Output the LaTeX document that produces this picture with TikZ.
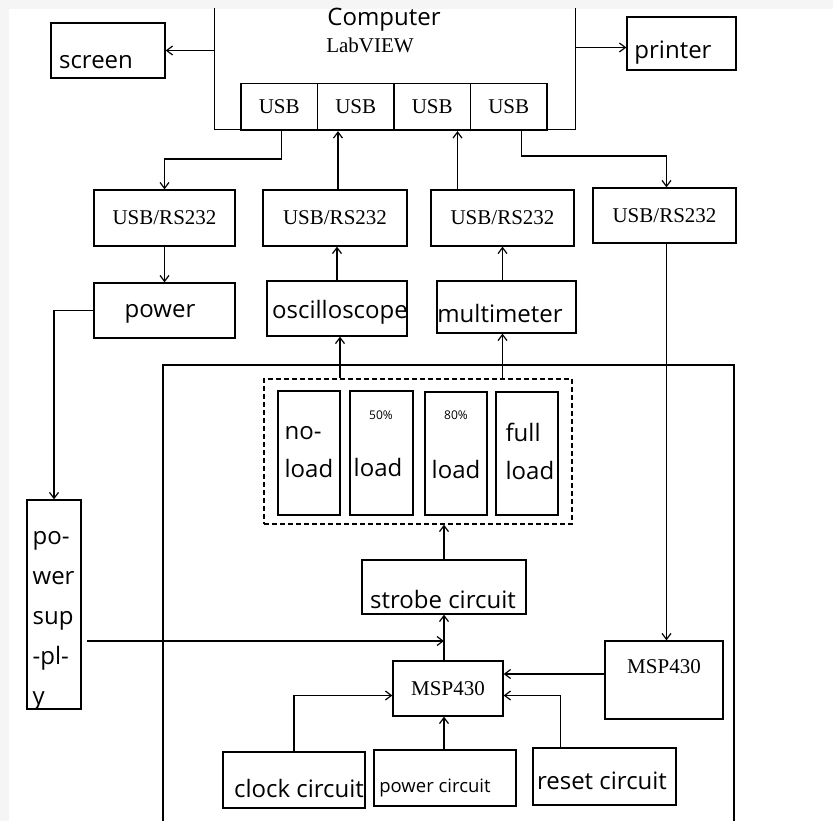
\documentclass[tikz,border=0pt]{standalone}
\usepackage{fontspec}
\setmainfont{Liberation Serif}
\setsansfont{Open Sans}
\usetikzlibrary{arrows.meta}

\tikzset{
  blk/.style 2 args={draw, line width=1.2pt, inner sep=0pt, minimum width=#1pt, minimum height=#2pt},
  sf/.style={font=\sffamily\fontsize{24}{38}\selectfont, inner sep=0pt},
  rm/.style={font=\rmfamily\fontsize{21}{24}\selectfont, inner sep=0pt},
  arr/.style={-{Straight Barb[length=6pt,width=9pt]}, line width=1.2pt},
}

\begin{document}
\begin{tikzpicture}[x=1pt,y=-1pt,line width=1.2pt]
        % page and margins
        \fill[black!4] (0,0) rectangle (833,821);
        \fill[white] (9,9) rectangle (833,821);
        \useasboundingbox (0,0) rectangle (833,821);

        % computer with its four ports
        \node[minimum width=360pt, minimum height=120pt] (comp) at (395,69) {};
        \draw (comp.north west) -- (comp.south west) -- (comp.south east) -- (comp.north east);
        \node[sf] at (384,20) {Computer};
        \node[rm] at (370,45) {LabVIEW};
        \foreach \i in {1,...,4}
            \node[blk={76.5}{47}, rm] (usb\i) at ({241+76.5*(\i-0.5)},107) {USB};

        \node[blk={114}{55}] (screen) at (108,50.5) {};
        \node[sf] at (96,62) {screen};
        \node[blk={109}{53}] (printer) at (681.5,43.5) {};
        \node[sf] at (673,53) {printer};

        % converters
        \node[blk={141}{56}, rm] (rs1) at (164.5,218) {USB/RS232};
        \node[blk={144}{56}, rm] (rs2) at (335,218) {USB/RS232};
        \node[blk={143}{56}, rm] (rs3) at (502.5,218) {USB/RS232};
        \node[blk={143}{55}, rm] (rs4) at (664.5,215.5) {USB/RS232};

        % instruments
        \node[blk={141}{55}] (power) at (164.5,310.5) {};
        \node[sf] at (160,314) {power};
        \node[blk={140}{55}] (osc) at (337,308.5) {};
        \node[sf] at (340,312) {oscilloscope};
        \node[blk={139}{52}] (multi) at (506.5,307) {};
        \node[sf] at (500,313) {multimeter};

        % test board
        \draw (163,821) -- (163,365) -- (734,365) -- (734,821);
        \node[blk={308}{145}, dash pattern=on 5pt off 3pt] (loads) at (418,451.5) {};
        \node[blk={62}{124}] (nl) at (309,453) {};
        \node[blk={63}{124}] (hl) at (381.5,453) {};
        \node[blk={62}{123}] (el) at (456,453.5) {};
        \node[blk={62}{123}] (fl) at (527,453.5) {};
        \node[sf, align=left, anchor=west] at (284,452) {no-\\load};
        \node[font=\sffamily\fontsize{12}{14}\selectfont] at (381,415) {50\%};
        \node[sf] at (378,467) {load};
        \node[font=\sffamily\fontsize{12}{14}\selectfont] at (456,415) {80\%};
        \node[sf] at (456,469) {load};
        \node[sf, align=left, anchor=west] at (505,451.5) {full\\load};

        \node[blk={164}{54}] (strobe) at (444,587) {};
        \node[sf] at (443,599) {strobe circuit};
        \node[blk={110}{55}, rm] (mspA) at (448,688.5) {MSP430};
        \node[blk={118}{78}] (mspB) at (664,680) {};
        \node[rm] at (664,667) {MSP430};

        \node[blk={54}{209}] (supply) at (54,604.5) {};
        \node[sf, align=left, anchor=north west, font=\sffamily\fontsize{24}{40}\selectfont] at (32,531) {po-\\wer\\sup\\-pl-\\y};

        \node[blk={142}{56}] (clock) at (294,780) {};
        \node[sf] at (299,788) {clock circuit};
        \node[blk={142}{56}] (pwrc) at (445,778) {};
        \node[sf, font=\sffamily\fontsize{18.5}{22}\selectfont] at (435,788) {power circuit};
        \node[blk={143}{57}] (reset) at (604.5,776.5) {};
        \node[sf] at (602,781) {reset circuit};

        % connections
        \draw[arr] (screen.east -| comp.west) -- (screen.east);
        \draw[arr] ([yshift=-4pt]printer.west -| comp.east) -- ([yshift=-4pt]printer.west);
        \draw[arr] ([xshift=2pt]usb1.south) -- ++(0,28) -| (rs1.north);
        \draw[arr] ([xshift=3pt]rs2.north) -- ([xshift=3pt]rs2.north |- usb2.south);
        \draw[arr] ([xshift=-45pt]rs3.north) -- ([xshift=-45pt]rs3.north |- usb3.south);
        \draw[arr] ([xshift=13pt]usb4.south) -- ++(0,25) -| ([xshift=2pt]rs4.north);
        \draw[arr] (rs1.south) -- (power.north);
        \draw[arr] (osc.north) -- (osc.north |- rs2.south);
        \draw[arr] (rs3.south |- multi.north) -- (rs3.south);
        \draw[arr] ([xshift=3pt]loads.north -| osc.south) -- ([xshift=3pt]osc.south);
        \draw[arr] (loads.north -| rs3.south) -- (rs3.south |- multi.south);
        \draw[arr] (strobe.north) -- (strobe.north |- loads.south);
        \draw[arr] (mspA.north -| strobe.south) -- (strobe.south);
        \draw[arr] ([xshift=2pt]rs4.south) -- ([xshift=2pt]rs4.south |- mspB.north);
        \draw[arr] ([yshift=6pt]mspB.west) -- ([yshift=6pt]mspB.west -| mspA.east);
        \draw[arr] (power.west) -| (supply.north);
        \coordinate (join) at (strobe.south |- 0,641);
        \draw[arr] ([xshift=5pt]supply.east |- join) -- (join);
        \draw[arr] (clock.north) |- ([yshift=-7pt]mspA.west);
        \draw[arr] (pwrc.north -| strobe.south) -- (strobe.south |- mspA.south);
        \draw[arr] ([xshift=-44pt]reset.north) |- ([yshift=-7pt]mspA.east);

    \end{tikzpicture}
\end{document}
